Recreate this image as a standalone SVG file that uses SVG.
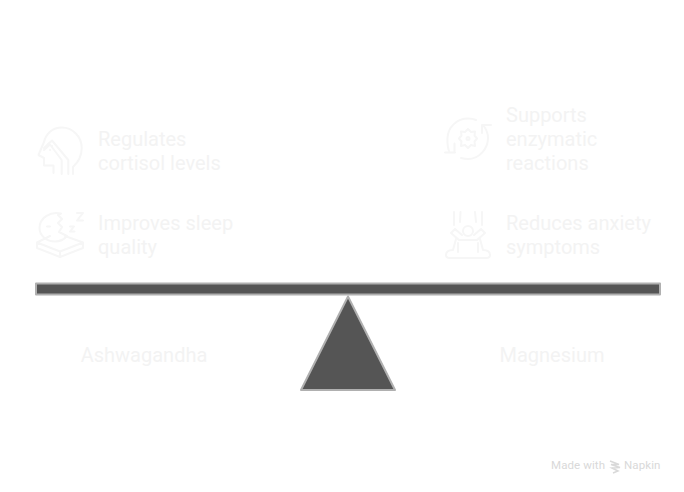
<svg xmlns="http://www.w3.org/2000/svg" width="684" height="492" viewBox="0 0 684 492">
<style>
.t{font-family:Roboto,"Liberation Sans",sans-serif;font-size:20px;font-weight:400;fill:#f3f3f3}
.i{fill:none;stroke:#f6f6f6;stroke-width:2;stroke-linecap:round;stroke-linejoin:round}
.s{fill:#555;stroke:#b0b0b0;stroke-width:2;stroke-linejoin:round}
.w{font-family:Roboto,"Liberation Sans",sans-serif;font-size:11.500px;fill:#d9d9d9;letter-spacing:.1px}
</style>
<rect width="684" height="492" fill="#fff"/>
<g id="seesaw">
<rect class="s" x="36" y="283.500" width="624" height="11"/>
<polygon class="s" points="348,296.500 395,390 301,390"/>
</g>
<g id="cortisol">
<path class="i" d="M73 174V167C78.500 162 81.700 156 81.700 148C81.700 136 72 127.500 62 127.500C52 127.500 46 134 44 142L38.500 155L44 158V165.500H53.500V173"/>
<path class="i" d="M61.700 174V160L50 144.500L44 150M68.300 174V160L52 140.500L44 148"/>
<path class="i" d="M48.500 143.500h.1M52 146h.1M50 150h.1"/>
<text class="t"><tspan x="98" y="146">Regulates</tspan><tspan x="98" y="170">cortisol levels</tspan></text>
</g>
<g id="sleep">
<path class="i" d="M61 213.500C50 211 39.500 218 39.500 228C39.500 236 47 241.500 55 241.500C60 241.500 64 239.500 67 236L59 232L62 227L58 223L62 219L58 215Z"/>
<path class="i" d="M47 226.500H50M70 226.500H74L70 231.500H74.500M77 213H83L77 220.500H83"/>
<path class="i" d="M50 236L37 242.500V248L60 257L83 248V242.500L65 236M37 242.500L60 251.500L83 242.500M60 251.500V257"/>
<text class="t"><tspan x="98" y="230">Improves sleep</tspan><tspan x="98" y="254">quality</tspan></text>
</g>
<g id="enzymatic">
<path class="i" d="M449 151C447 146 447.500 140 447.500 138C448 127 457 118.500 468 118.500C471 118.500 474 119 476 120M461 158C463 158.500 465.500 159 468 159C479 159 488 149 488 138C488 134 487 130 483 125"/>
<path class="i" d="M445 152.500H455M454.500 143.500V152.500M482 125H491M482 125V133"/>
<path class="i" d="M468 129L471 132L475 131.500L474.500 135.500L477 138.500L474.500 141.500L475 146L471 145L468 148L465 145L461 146L461.500 141.500L459 138.500L461.500 135.500L461 131.500L465 132Z"/>
<circle class="i" cx="468" cy="138.500" r="1.500"/>
<text class="t"><tspan x="506" y="122">Supports</tspan><tspan x="506" y="146">enzymatic</tspan><tspan x="506" y="170">reactions</tspan></text>
</g>
<g id="anxiety">
<path class="i" d="M454 212V225M460.500 212L460 222M475 212L476 222M482 212V225"/>
<circle class="i" cx="468" cy="231" r="5"/>
<path class="i" d="M455 229L451 233L459 240H477L485 233L481 229L474 235M462 235L455 229"/>
<path class="i" d="M456 239L453 250C448 250 446 252 446 255C446 257 448 258 450 258H486C488 258 490 257 490 255C490 252 488 250 483 250L480 239M458 252V243M478 252V243"/>
<text class="t"><tspan x="506" y="230">Reduces anxiety</tspan><tspan x="506" y="254">symptoms</tspan></text>
</g>
<g id="ashwagandha"><text class="t" x="144" y="362" text-anchor="middle">Ashwagandha</text></g>
<g id="magnesium"><text class="t" x="552" y="362" text-anchor="middle">Magnesium</text></g>
<g id="connectors"></g>
<g id="watermark">
<text class="w" x="551" y="468.500">Made with</text>
<path d="M610 461L619 464.500L611 464.500L620 467.500L612 468L618 471L613 473" fill="none" stroke="#d9d9d9" stroke-width="1.500"/>
<text class="w" x="624" y="468.500">Napkin</text>
</g>
</svg>
